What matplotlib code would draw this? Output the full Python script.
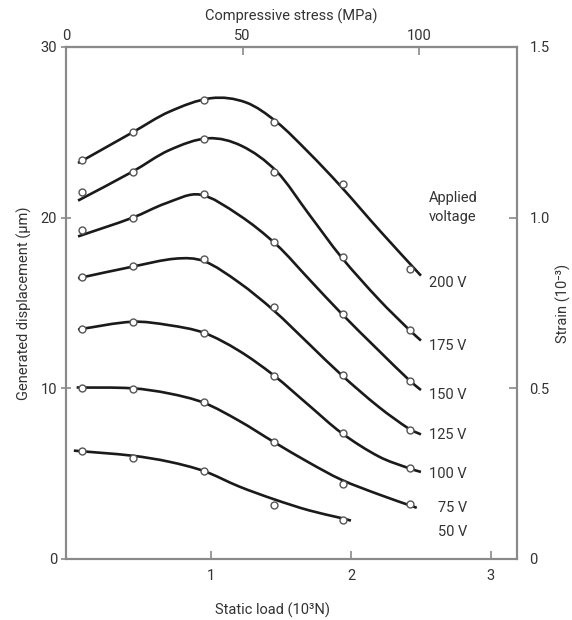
import numpy as np
import matplotlib
matplotlib.use("Agg")
import matplotlib.pyplot as plt
from matplotlib.path import Path
from matplotlib.patches import PathPatch

plt.rcParams['font.family'] = ['Roboto', 'DejaVu Sans']

# measured points (static load in 10^3 N, displacement in um)
load_pts = [0.08, 0.44, 0.95, 1.45, 1.94, 2.42]
pts_200 = [23.4, 25.0, 26.9, 25.6, 22.0, 17.0]
pts_175 = [21.5, 22.7, 24.6, 22.7, 17.7, 13.4]
pts_150 = [19.3, 20.0, 21.4, 18.6, 14.35, 10.45]
pts_125 = [16.5, 17.15, 17.55, 14.75, 10.8, 7.55]
pts_100 = [13.5, 13.9, 13.25, 10.75, 7.4, 5.35]
pts_75 = [10.0, 9.95, 9.2, 6.85, 4.4, 3.2]
pts_50 = [6.35, 5.9, 5.15, 3.15, 2.3]

# fitted curves
cx_200 = [0.05, 0.44, 0.7, 1.0, 1.25, 1.47, 1.7, 1.92, 2.21, 2.5]
cy_200 = [23.2, 25.0, 26.2, 27.0, 26.75, 25.6, 23.8, 21.9, 19.2, 16.6]
cx_175 = [0.05, 0.44, 0.7, 0.98, 1.22, 1.47, 1.7, 1.93, 2.2, 2.42, 2.5]
cy_175 = [21.0, 22.7, 23.95, 24.65, 24.2, 22.7, 20.2, 17.7, 15.2, 13.4, 12.8]
cx_150 = [0.05, 0.44, 0.68, 0.92, 1.2, 1.47, 1.7, 1.93, 2.2, 2.42, 2.5]
cy_150 = [18.9, 20.0, 20.85, 21.35, 20.15, 18.4, 16.4, 14.4, 12.2, 10.45, 9.9]
cx_125 = [0.05, 0.44, 0.75, 0.95, 1.2, 1.45, 1.7, 1.93, 2.2, 2.42, 2.5]
cy_125 = [16.45, 17.13, 17.6, 17.45, 16.2, 14.55, 12.6, 10.8, 8.9, 7.6, 7.3]
cx_100 = [0.05, 0.44, 0.7, 0.95, 1.2, 1.45, 1.7, 1.93, 2.2, 2.42, 2.5]
cy_100 = [13.45, 13.9, 13.7, 13.25, 12.2, 10.75, 9.0, 7.4, 6.0, 5.3, 5.1]
cx_75 = [0.04, 0.44, 0.7, 0.95, 1.2, 1.45, 1.7, 1.93, 2.2, 2.47]
cy_75 = [10.05, 10.0, 9.7, 9.15, 8.1, 6.85, 5.65, 4.65, 3.78, 3.0]
cx_50 = [0.02, 0.44, 0.7, 0.95, 1.2, 1.45, 1.7, 1.93, 2.0]
cy_50 = [6.35, 6.05, 5.7, 5.15, 4.25, 3.5, 2.85, 2.4, 2.25]

voltages = ['200 V', '175 V', '150 V', '125 V', '100 V', '75 V', '50 V']
label_x = [2.557, 2.557, 2.557, 2.557, 2.557, 2.62, 2.62]
label_y = [16.2, 12.5, 9.6, 7.25, 5.0, 3.0, 1.6]

curves = [(cx_200, cy_200), (cx_175, cy_175), (cx_150, cy_150), (cx_125, cy_125),
          (cx_100, cy_100), (cx_75, cy_75), (cx_50, cy_50)]
points = [pts_200, pts_175, pts_150, pts_125, pts_100, pts_75, pts_50]


def smooth_path(xs, ys):
    # cubic Hermite through the read points, drawn as Bezier segments
    x = np.asarray(xs, float)
    y = np.asarray(ys, float)
    n = len(x)
    m = np.empty(n)
    m[0] = (y[1] - y[0]) / (x[1] - x[0])
    m[-1] = (y[-1] - y[-2]) / (x[-1] - x[-2])
    m[1:-1] = (y[2:] - y[:-2]) / (x[2:] - x[:-2])
    verts = [(x[0], y[0])]
    codes = [Path.MOVETO]
    for i in range(n - 1):
        h = x[i + 1] - x[i]
        verts += [(x[i] + h / 3, y[i] + m[i] * h / 3),
                  (x[i + 1] - h / 3, y[i + 1] - m[i + 1] * h / 3),
                  (x[i + 1], y[i + 1])]
        codes += [Path.CURVE4] * 3
    return Path(verts, codes)


txt = '#333333'
spine_c = '#8a8a8a'
fs = 10.5

fig = plt.figure(figsize=(5.72, 6.2), dpi=100)
ax = fig.add_axes([0.1154, 0.0984, 0.7884, 0.8258])

for (cx, cy), pts in zip(curves, points):
    ax.add_patch(PathPatch(smooth_path(cx, cy), fill=False, lw=1.9,
                           edgecolor='#1a1a1a', capstyle='butt', zorder=2))
    ax.plot(load_pts[:len(pts)], pts, 'o', ms=5, mfc='white', mec='#555555',
            mew=1.0, zorder=3)

for lab, lx, ly in zip(voltages, label_x, label_y):
    ax.text(lx, ly, lab, fontsize=fs, color=txt, va='center', ha='left')
ax.text(2.557, 20.6, 'Applied\nvoltage', fontsize=fs, color=txt,
        va='center', ha='left', linespacing=1.4)

ax.set_xlim(-0.036, 3.186)
ax.set_ylim(0, 30)
ax.set_xticks([1, 2, 3])
ax.set_yticks([0, 10, 20, 30])
ax.set_xlabel('Static load (10³N)', fontsize=fs, color=txt)
ax.xaxis.set_label_coords(0.457, -0.085)
ax.set_ylabel('Generated displacement (μm)', fontsize=fs, color=txt, labelpad=6)
ax.tick_params(axis='x', direction='in', length=6, width=1.2, color=spine_c,
               labelsize=fs, labelcolor=txt, pad=7)
ax.tick_params(axis='y', direction='inout', length=7, width=1.2, color=spine_c,
               labelsize=fs, labelcolor=txt, pad=3)

ax2 = ax.twinx()
ax2.set_ylim(0, 1.5)
ax2.set_yticks([0, 0.5, 1.0, 1.5])
ax2.set_yticklabels(['0', '0.5', '1.0', '1.5'])
ax2.set_ylabel('Strain (10⁻³)', fontsize=fs, color=txt, labelpad=4)
ax2.tick_params(axis='y', direction='in', length=6, width=1.2, color=spine_c,
                labelsize=fs, labelcolor=txt, pad=9)

k = 100 / (2.486 + 0.036)
top = ax.secondary_xaxis('top', functions=(lambda x: (x + 0.036) * k,
                                            lambda mp: mp / k - 0.036))
top.set_xticks([0, 50, 100])
top.set_xlabel('Compressive stress (MPa)', fontsize=fs, color=txt, labelpad=6)
top.tick_params(direction='in', length=6, width=1.2, color=spine_c,
                labelsize=fs, labelcolor=txt, pad=3)

for a in (ax, ax2, top):
    for s in a.spines.values():
        s.set_color(spine_c)
        s.set_linewidth(1.5)

fig.savefig('out.png', dpi=100)
